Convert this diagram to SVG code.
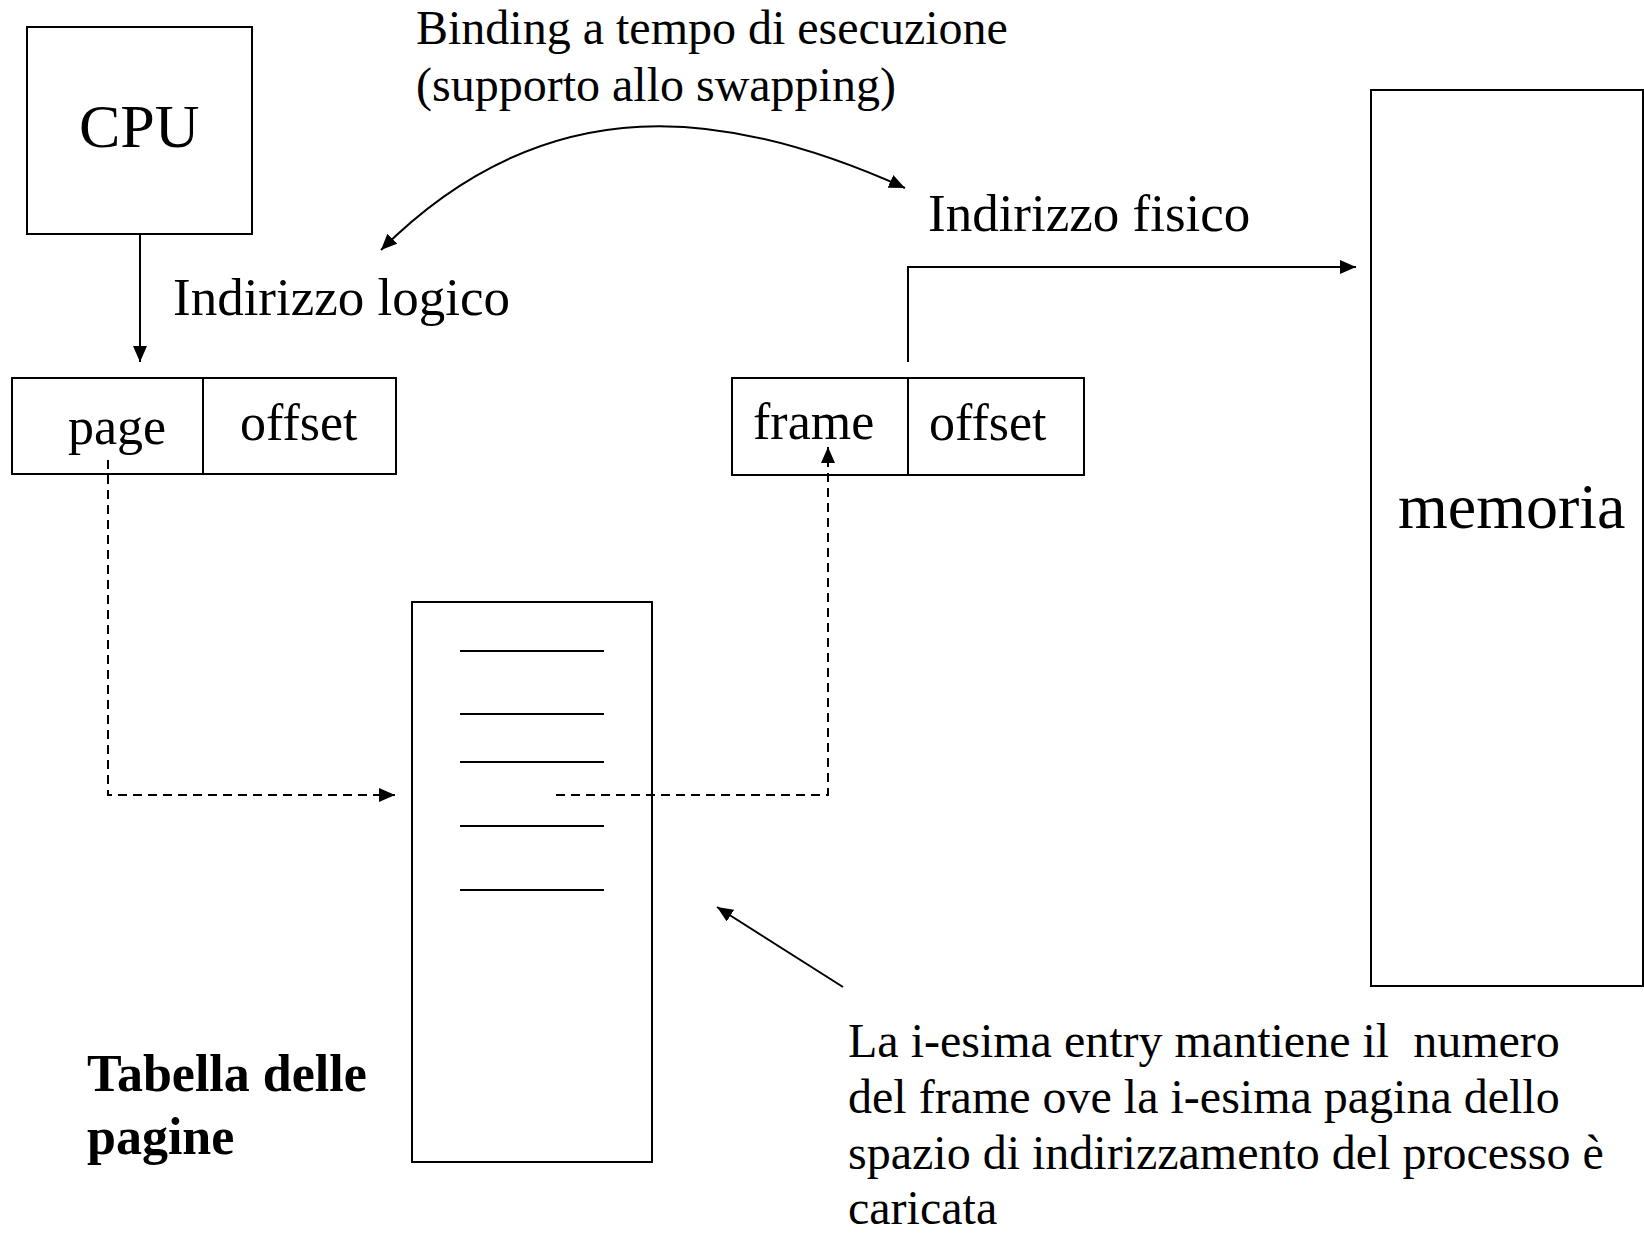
<svg xmlns="http://www.w3.org/2000/svg" width="1644" height="1235" viewBox="0 0 1644 1235">
  <style>
    .box { fill: #ffffff; stroke: #000000; stroke-width: 2; }
    .ln { fill: none; stroke: #000000; stroke-width: 2; }
    .dash { fill: none; stroke: #000000; stroke-width: 2; stroke-dasharray: 9 6; }
    .t { font-family: "Liberation Serif", "Times New Roman", serif; fill: #000000; white-space: pre; }
    .b { font-weight: bold; }
  </style>
  <defs>
    <marker id="arr" viewBox="0 0 16 14" refX="16" refY="7" markerWidth="16" markerHeight="14" markerUnits="userSpaceOnUse" orient="auto-start-reverse">
      <path d="M0,0 L16,7 L0,14 z" fill="#000000" stroke="none"/>
    </marker>
  </defs>
  <rect width="1644" height="1235" fill="#ffffff"/>

  <g id="cpu">
    <rect class="box" x="27" y="27" width="225" height="207"/>
    <text class="t" x="79" y="147" font-size="62">CPU</text>
  </g>

  <g id="logical-address">
    <rect class="box" x="12" y="378" width="384" height="96"/>
    <line class="ln" x1="203" y1="378" x2="203" y2="474"/>
    <text class="t" x="68" y="444" font-size="52">page</text>
    <text class="t" x="240" y="440" font-size="52">offset</text>
  </g>

  <g id="physical-address">
    <rect class="box" x="732" y="378" width="352" height="97"/>
    <line class="ln" x1="908" y1="378" x2="908" y2="475"/>
    <text class="t" x="753" y="439" font-size="52">frame</text>
    <text class="t" x="929" y="440" font-size="52">offset</text>
  </g>

  <g id="page-table">
    <rect class="box" x="412" y="602" width="240" height="560"/>
    <line class="ln" x1="460" y1="651" x2="604" y2="651"/>
    <line class="ln" x1="460" y1="714" x2="604" y2="714"/>
    <line class="ln" x1="460" y1="762" x2="604" y2="762"/>
    <line class="ln" x1="460" y1="826" x2="604" y2="826"/>
    <line class="ln" x1="460" y1="890" x2="604" y2="890"/>
  </g>

  <g id="memory">
    <rect class="box" x="1371" y="90" width="272" height="896"/>
    <text class="t" x="1398" y="528" font-size="64">memoria</text>
  </g>

  <g id="labels">
    <text class="t" x="416" y="44" font-size="48">Binding a tempo di esecuzione</text>
    <text class="t" x="416" y="101" font-size="48">(supporto allo swapping)</text>
    <text class="t" x="173" y="315" font-size="53">Indirizzo logico</text>
    <text class="t" x="928" y="231" font-size="53">Indirizzo fisico</text>
    <text class="t b" x="87" y="1091" font-size="52">Tabella delle</text>
    <text class="t b" x="87" y="1154" font-size="52">pagine</text>
    <text class="t" x="848" y="1057" font-size="48">La i-esima entry mantiene il  numero</text>
    <text class="t" x="848" y="1113" font-size="48">del frame ove la i-esima pagina dello</text>
    <text class="t" x="848" y="1169" font-size="48">spazio di indirizzamento del processo è</text>
    <text class="t" x="848" y="1224" font-size="48">caricata</text>
  </g>

  <g id="connectors">
    <path class="ln" d="M140,234 V362" marker-end="url(#arr)"/>
    <path class="ln" d="M381,250 C548,83 730,109 905,188" marker-start="url(#arr)" marker-end="url(#arr)"/>
    <path class="ln" d="M908,362 V267 H1356" marker-end="url(#arr)"/>
    <path class="dash" d="M108,460 V795 H395" marker-end="url(#arr)"/>
    <path class="dash" d="M556,795 H828 V447" marker-end="url(#arr)"/>
    <path class="ln" d="M843,987 L717,907" marker-end="url(#arr)"/>
  </g>
</svg>
